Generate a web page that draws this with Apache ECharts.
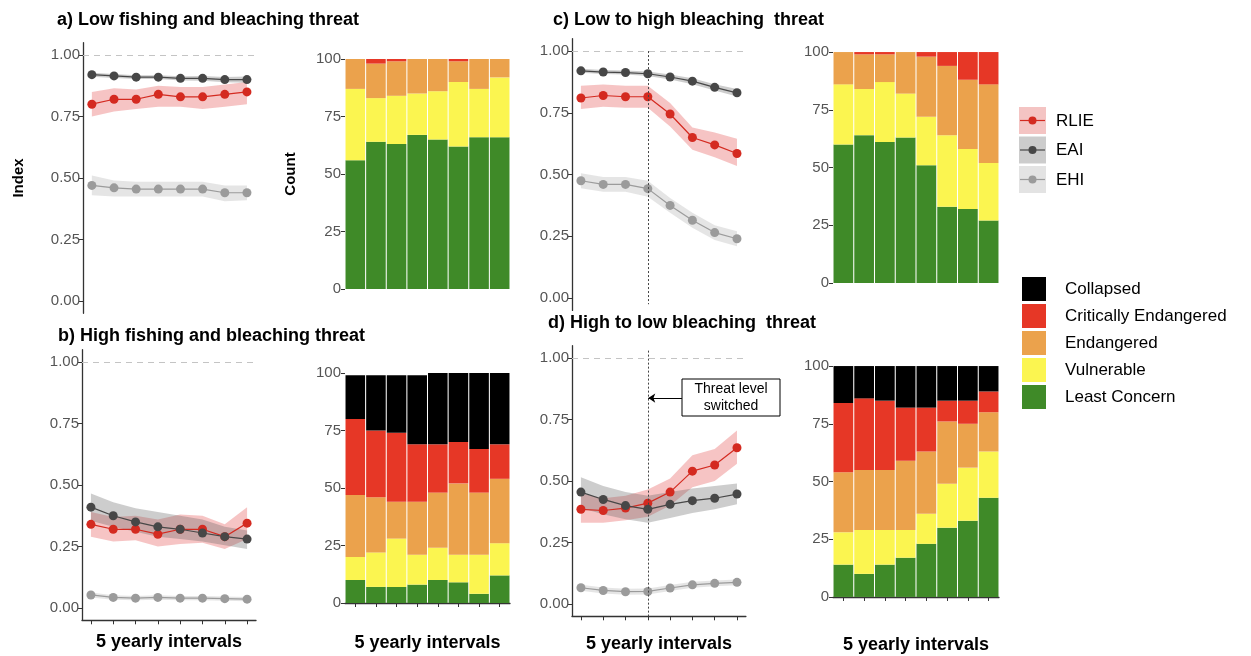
<!DOCTYPE html>
<html>
<head>
<meta charset="utf-8">
<script src="https://cdn.jsdelivr.net/npm/echarts@6/dist/echarts.min.js"></script>
<style>
  html, body { margin: 0; padding: 0; background: #fff; }
  #chart { width: 1251px; height: 656px; }
</style>
</head>
<body>
<div id="chart"></div>
<script>
const intervals = [1, 2, 3, 4, 5, 6, 7, 8]
const periods = ['1', '2', '3', '4', '5', '6', '7', '8']
const indexTicks = [0, 0.25, 0.5, 0.75, 1]
const countTicks = [0, 25, 50, 75, 100]
const switchAt = 4

// a) low fishing and bleaching threat
const aRLIE = [0.80, 0.82, 0.82, 0.84, 0.83, 0.83, 0.84, 0.85]
const aRLIELo = [0.75, 0.77, 0.78, 0.79, 0.79, 0.78, 0.79, 0.80]
const aRLIEHi = [0.85, 0.865, 0.86, 0.875, 0.87, 0.87, 0.88, 0.89]
const aEAI = [0.92, 0.915, 0.91, 0.91, 0.905, 0.905, 0.90, 0.90]
const aEAILo = [0.912, 0.907, 0.902, 0.902, 0.896, 0.895, 0.889, 0.887]
const aEAIHi = [0.928, 0.923, 0.918, 0.918, 0.914, 0.915, 0.911, 0.913]
const aEHI = [0.47, 0.46, 0.455, 0.455, 0.455, 0.455, 0.44, 0.44]
const aEHILo = [0.43, 0.425, 0.425, 0.425, 0.425, 0.425, 0.405, 0.41]
const aEHIHi = [0.51, 0.49, 0.485, 0.485, 0.485, 0.485, 0.47, 0.47]
const aLC = [56, 64, 63, 67, 65, 62, 66, 66]
const aVU = [31, 19, 21, 18, 21, 28, 21, 26]
const aEN = [13, 15, 15, 15, 14, 9, 13, 8]
const aCR = [0, 2, 1, 0, 0, 1, 0, 0]
const aCO = [0, 0, 0, 0, 0, 0, 0, 0]

// b) high fishing and bleaching threat
const bRLIE = [0.34, 0.32, 0.32, 0.30, 0.32, 0.32, 0.29, 0.345]
const bRLIELo = [0.29, 0.27, 0.275, 0.25, 0.26, 0.265, 0.24, 0.28]
const bRLIEHi = [0.39, 0.37, 0.375, 0.36, 0.38, 0.375, 0.34, 0.41]
const bEAI = [0.41, 0.375, 0.35, 0.33, 0.32, 0.305, 0.29, 0.28]
const bEAILo = [0.355, 0.33, 0.31, 0.29, 0.28, 0.27, 0.255, 0.24]
const bEAIHi = [0.465, 0.43, 0.405, 0.39, 0.375, 0.36, 0.33, 0.315]
const bEHI = [0.053, 0.043, 0.04, 0.043, 0.04, 0.04, 0.038, 0.036]
const bEHILo = [0.043, 0.034, 0.031, 0.034, 0.031, 0.031, 0.029, 0.027]
const bEHIHi = [0.063, 0.052, 0.049, 0.052, 0.049, 0.049, 0.047, 0.045]
const bLC = [10, 7, 7, 8, 10, 9, 4, 12]
const bVU = [10, 15, 21, 13, 14, 12, 17, 14]
const bEN = [27, 24, 16, 23, 24, 31, 27, 28]
const bCR = [33, 29, 30, 25, 21, 18, 19, 15]
const bCO = [19, 24, 25, 30, 31, 30, 33, 31]

// c) low to high bleaching threat
const cRLIE = [0.81, 0.82, 0.815, 0.815, 0.745, 0.65, 0.62, 0.585]
const cRLIELo = [0.765, 0.775, 0.77, 0.77, 0.695, 0.60, 0.57, 0.535]
const cRLIEHi = [0.86, 0.865, 0.86, 0.86, 0.79, 0.69, 0.67, 0.645]
const cEAI = [0.92, 0.915, 0.913, 0.908, 0.895, 0.878, 0.853, 0.831]
const cEAILo = [0.912, 0.907, 0.905, 0.899, 0.885, 0.866, 0.84, 0.816]
const cEAIHi = [0.928, 0.923, 0.921, 0.917, 0.905, 0.89, 0.866, 0.846]
const cEHI = [0.475, 0.46, 0.46, 0.443, 0.375, 0.315, 0.265, 0.24]
const cEHILo = [0.445, 0.43, 0.43, 0.41, 0.345, 0.285, 0.235, 0.21]
const cEHIHi = [0.505, 0.49, 0.49, 0.475, 0.405, 0.345, 0.295, 0.27]
const cLC = [60, 64, 61, 63, 51, 33, 32, 27]
const cVU = [26, 20, 26, 19, 21, 31, 26, 25]
const cEN = [14, 15, 12, 18, 26, 30, 30, 34]
const cCR = [0, 1, 1, 0, 2, 6, 12, 14]
const cCO = [0, 0, 0, 0, 0, 0, 0, 0]

// d) high to low bleaching threat
const dRLIE = [0.385, 0.38, 0.39, 0.41, 0.455, 0.54, 0.565, 0.635]
const dRLIELo = [0.33, 0.33, 0.34, 0.355, 0.40, 0.475, 0.50, 0.57]
const dRLIEHi = [0.45, 0.43, 0.44, 0.465, 0.51, 0.605, 0.63, 0.705]
const dEAI = [0.455, 0.425, 0.40, 0.385, 0.405, 0.42, 0.43, 0.447]
const dEAILo = [0.39, 0.365, 0.345, 0.33, 0.35, 0.37, 0.385, 0.405]
const dEAIHi = [0.515, 0.48, 0.455, 0.44, 0.455, 0.47, 0.48, 0.49]
const dEHI = [0.066, 0.055, 0.05, 0.051, 0.065, 0.078, 0.084, 0.088]
const dEHILo = [0.054, 0.043, 0.038, 0.039, 0.053, 0.066, 0.072, 0.076]
const dEHIHi = [0.078, 0.067, 0.062, 0.063, 0.077, 0.09, 0.096, 0.1]
const dLC = [14, 10, 14, 17, 23, 30, 33, 43]
const dVU = [14, 19, 15, 12, 13, 19, 23, 20]
const dEN = [26, 26, 26, 30, 27, 27, 19, 17]
const dCR = [30, 31, 30, 23, 19, 9, 10, 9]
const dCO = [16, 14, 15, 18, 18, 15, 15, 11]

const FONT = '"Liberation Sans", Arial, Helvetica, sans-serif'
const idxColors = { RLIE: '#d42a20', EAI: '#474747', EHI: '#9b9b9b' }
const bandColors = { RLIE: 'rgba(226,70,70,0.32)', EAI: 'rgba(90,90,90,0.3)', EHI: 'rgba(150,150,150,0.25)' }
const statusNames = ['Least Concern', 'Vulnerable', 'Endangered', 'Critically Endangered', 'Collapsed']
const statusColors = ['#3f8a28', '#fbf550', '#eba24c', '#e63726', '#000000']

const chart = echarts.init(document.getElementById('chart'))

// grids: 0 line a, 1 bar a, 2 line b, 3 bar b, 4 line c, 5 bar c, 6 line d, 7 bar d
const grids = [
  { left: 83, top: 42.7, width: 172.8, height: 270.6 },
  { left: 345, top: 47.5, width: 165, height: 253 },
  { left: 82, top: 349.7, width: 174, height: 270.6 },
  { left: 345, top: 361.5, width: 165, height: 253 },
  { left: 572, top: 38.7, width: 173.9, height: 271.7 },
  { left: 833, top: 40.5, width: 166, height: 254 },
  { left: 572, top: 345.7, width: 173.9, height: 270.6 },
  { left: 833, top: 354.5, width: 166, height: 254 }
].map(g => Object.assign({ outerBoundsMode: 'none', containLabel: false }, g))

const xName = '5 yearly intervals'
const xNameStyle = { fontFamily: FONT, fontSize: 18, fontWeight: 'bold', color: '#000' }

function lineX (g, bottom, gap) {
  return {
    type: 'value', gridIndex: g, min: 0.6, max: 8.4,
    splitLine: { show: false },
    axisLabel: { show: false },
    axisLine: { show: bottom, onZero: false, lineStyle: { color: '#333', width: 1.3 } },
    axisTick: { show: bottom, customValues: intervals, length: 4, lineStyle: { color: '#333' } },
    name: bottom ? xName : '', nameLocation: 'middle', nameGap: gap, nameTextStyle: xNameStyle
  }
}

function barX (g, bottom, offset, gap) {
  return {
    type: 'category', gridIndex: g, data: periods, offset: offset,
    axisLabel: { show: false },
    axisLine: { show: bottom, lineStyle: { color: '#333', width: 1.3 } },
    axisTick: { show: bottom, alignWithLabel: true, length: 4, lineStyle: { color: '#333' } },
    name: bottom ? xName : '', nameLocation: 'middle', nameGap: gap, nameTextStyle: xNameStyle
  }
}

function lineY (g, name) {
  return {
    type: 'value', gridIndex: g, min: -0.05, max: 1.05,
    splitLine: { show: false },
    axisLine: { show: true, lineStyle: { color: '#333', width: 1.3 } },
    axisTick: { show: true, customValues: indexTicks, length: 4, lineStyle: { color: '#333' } },
    axisLabel: {
      customValues: indexTicks, formatter: v => v.toFixed(2),
      color: '#555', fontSize: 15, fontFamily: FONT, margin: 3
    },
    name: name, nameLocation: 'middle', nameRotate: 90, nameGap: 57,
    nameTextStyle: { fontFamily: FONT, fontSize: 15, fontWeight: 'bold', color: '#000' }
  }
}

function barY (g, name) {
  return {
    type: 'value', gridIndex: g, min: -5, max: 105,
    splitLine: { show: false },
    axisLine: { show: false },
    axisTick: { show: true, customValues: countTicks, length: 4, lineStyle: { color: '#333' } },
    axisLabel: {
      customValues: countTicks, color: '#555', fontSize: 15, fontFamily: FONT, margin: 4
    },
    name: name, nameLocation: 'middle', nameRotate: 90, nameGap: 47,
    nameTextStyle: { fontFamily: FONT, fontSize: 15, fontWeight: 'bold', color: '#000' }
  }
}

// confidence ribbon: one polygon through the upper bounds and back along the lower ones
function band (g, key, lo, hi) {
  return {
    type: 'custom', xAxisIndex: g, yAxisIndex: g, silent: true, z: 1,
    data: intervals.map((x, i) => [x, lo[i], hi[i]]),
    renderItem: function (params, api) {
      if (params.dataIndexInside !== 0) return
      const n = params.dataInsideLength
      const top = []
      const bottom = []
      for (let i = 0; i < n; i++) {
        const x = api.value(0, i)
        bottom.push(api.coord([x, api.value(1, i)]))
        top.push(api.coord([x, api.value(2, i)]))
      }
      return {
        type: 'polygon',
        shape: { points: top.concat(bottom.reverse()) },
        style: { fill: bandColors[key] }
      }
    }
  }
}

function points (g, key, vals, markLine) {
  const s = {
    type: 'line', name: key, xAxisIndex: g, yAxisIndex: g, z: 3,
    data: intervals.map((x, i) => [x, vals[i]]),
    symbol: 'circle', symbolSize: 9, showSymbol: true,
    itemStyle: { color: idxColors[key] },
    lineStyle: { color: idxColors[key], width: 1.2 }
  }
  if (markLine) s.markLine = markLine
  return s
}

function refLines (extra) {
  const data = [{ yAxis: 1, lineStyle: { type: [6, 5], color: '#c4c4c4', width: 1.2 } }]
  return {
    silent: true, symbol: ['none', 'none'], label: { show: false },
    data: data.concat(extra || [])
  }
}

function indexPanel (g, rlie, rlieLo, rlieHi, eai, eaiLo, eaiHi, ehi, ehiLo, ehiHi, extra) {
  return [
    band(g, 'RLIE', rlieLo, rlieHi),
    band(g, 'EAI', eaiLo, eaiHi),
    band(g, 'EHI', ehiLo, ehiHi),
    points(g, 'RLIE', rlie),
    points(g, 'EAI', eai),
    points(g, 'EHI', ehi, refLines(extra))
  ]
}

function statusPanel (g, lists) {
  return lists.map((vals, k) => ({
    type: 'bar', name: statusNames[k], xAxisIndex: g, yAxisIndex: g,
    stack: 'status' + g, barCategoryGap: '5%', data: vals,
    itemStyle: { color: statusColors[k] }
  }))
}

const switchLineC = [[
  { coord: [switchAt, 1.0], lineStyle: { type: [2, 2], color: '#444', width: 1 } },
  { coord: [switchAt, -0.025] }
]]
const switchLineD = [
  [
    { coord: [switchAt, 1.03], lineStyle: { type: [2, 2], color: '#444', width: 1 } },
    { coord: [switchAt, -0.05] }
  ],
  [
    { coord: [5.53, 0.837], symbol: 'none', lineStyle: { type: 'solid', color: '#000', width: 1 } },
    { coord: [switchAt + 0.02, 0.837], symbol: 'arrow', symbolSize: 7 }
  ]
]

const series = [].concat(
  indexPanel(0, aRLIE, aRLIELo, aRLIEHi, aEAI, aEAILo, aEAIHi, aEHI, aEHILo, aEHIHi),
  statusPanel(1, [aLC, aVU, aEN, aCR, aCO]),
  indexPanel(2, bRLIE, bRLIELo, bRLIEHi, bEAI, bEAILo, bEAIHi, bEHI, bEHILo, bEHIHi),
  statusPanel(3, [bLC, bVU, bEN, bCR, bCO]),
  indexPanel(4, cRLIE, cRLIELo, cRLIEHi, cEAI, cEAILo, cEAIHi, cEHI, cEHILo, cEHIHi, switchLineC),
  statusPanel(5, [cLC, cVU, cEN, cCR, cCO]),
  indexPanel(6, dRLIE, dRLIELo, dRLIEHi, dEAI, dEAILo, dEAIHi, dEHI, dEHILo, dEHIHi, switchLineD),
  statusPanel(7, [dLC, dVU, dEN, dCR, dCO])
)

const titleStyle = { fontFamily: FONT, fontSize: 18, fontWeight: 'bold', color: '#000' }
const titles = [
  { text: 'a) Low fishing and bleaching threat', left: 57, top: 11 },
  { text: 'b) High fishing and bleaching threat', left: 58, top: 327 },
  { text: 'c) Low to high bleaching  threat', left: 553, top: 11 },
  { text: 'd) High to low bleaching  threat', left: 548, top: 314 }
].map(t => Object.assign({ padding: 0, textStyle: titleStyle }, t))

// legend for the index lines (ribbon key boxes)
const idxKeys = ['RLIE', 'EAI', 'EHI']
const keyFill = { RLIE: '#f4c4c3', EAI: '#cccccc', EHI: '#e3e3e3' }
const legendGraphics = []
idxKeys.forEach((k, i) => {
  const y = 107 + i * 29.5
  legendGraphics.push(
    { type: 'rect', shape: { x: 1019, y: y, width: 27, height: 27 }, style: { fill: keyFill[k] } },
    { type: 'line', shape: { x1: 1020, y1: y + 13.5, x2: 1045, y2: y + 13.5 }, style: { stroke: idxColors[k], lineWidth: 1.2 } },
    { type: 'circle', shape: { cx: 1032.5, cy: y + 13.5, r: 4 }, style: { fill: idxColors[k] } },
    { type: 'text', style: { x: 1056, y: y + 14, text: k, font: '17px ' + FONT, fill: '#000', verticalAlign: 'middle' } }
  )
})

const option = {
  animation: false,
  backgroundColor: '#fff',
  title: titles,
  grid: grids,
  xAxis: [
    lineX(0, false), barX(1, false, 0),
    lineX(2, true, 13), barX(3, true, 3.5, 16),
    lineX(4, false), barX(5, false, 0),
    lineX(6, true, 19), barX(7, true, 9.5, 18)
  ],
  yAxis: [
    lineY(0, 'Index'), barY(1, 'Count'),
    lineY(2, ''), barY(3, ''),
    lineY(4, ''), barY(5, ''),
    lineY(6, ''), barY(7, '')
  ],
  legend: {
    data: ['Collapsed', 'Critically Endangered', 'Endangered', 'Vulnerable', 'Least Concern'],
    orient: 'vertical', left: 1022, top: 277, padding: 0,
    itemWidth: 24, itemHeight: 24, itemGap: 3, icon: 'rect',
    selectedMode: false,
    textStyle: { fontFamily: FONT, fontSize: 17, color: '#000', padding: [0, 0, 0, 14] }
  },
  graphic: legendGraphics.concat([
    { type: 'rect', shape: { x: 682, y: 379, width: 98, height: 37 }, style: { fill: '#fff', stroke: '#000', lineWidth: 1 } },
    { type: 'text', style: { x: 731, y: 398, text: 'Threat level\nswitched', font: '14px ' + FONT, fill: '#000', align: 'center', verticalAlign: 'middle', lineHeight: 17 } }
  ]),
  series: series
}

chart.setOption(option)
</script>
</body>
</html>
